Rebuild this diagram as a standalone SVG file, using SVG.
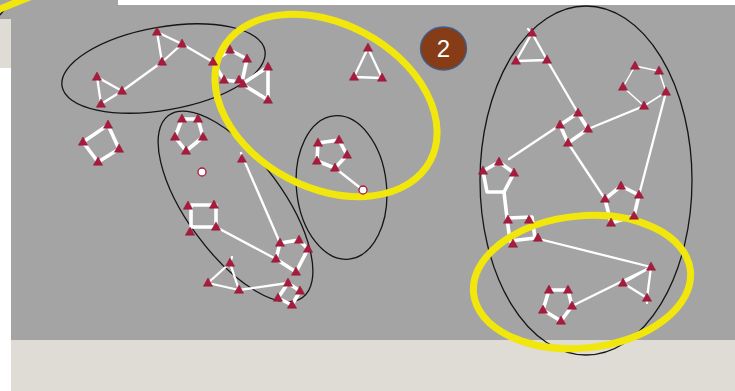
<svg xmlns="http://www.w3.org/2000/svg" width="735" height="391" viewBox="0 0 735 391">
<defs>
<style>
.grp{fill:none;stroke:#151515;stroke-width:1.3}
.hl{fill:none;stroke:#f1e70d;stroke-width:7}
.e{fill:none;stroke:#fff;stroke-width:2.3;stroke-linecap:round;stroke-linejoin:round}
.t{stroke-width:3.6}
.h{stroke-width:1.5}
.n{fill:#a81b3c;stroke:#8c1430;stroke-width:0.5}
.w{fill:#fff;stroke:#a81b3c;stroke-width:1.3}
.lbl{font-family:"Liberation Sans",Arial,sans-serif;font-size:24px;fill:#fff}
</style>
<path id="tri" d="M0,-5 L4.6,3.2 L-4.6,3.2Z"/>
</defs>

<!-- backdrop panels -->
<rect width="735" height="391" fill="#fff"/>
<rect x="0" y="0" width="735" height="340" fill="#a4a4a4"/>
<rect x="118" y="0" width="617" height="5" fill="#fff"/>
<rect x="0" y="19" width="11" height="49" fill="#dfdbd5"/>
<rect x="0" y="68" width="11" height="323" fill="#fff"/>
<rect x="11" y="340" width="724" height="51" fill="#dfdbd5"/>

<!-- group outlines -->
<g id="groups" class="grp">
<path d="M0,15 L8,5"/>
<ellipse cx="163.5" cy="68.5" rx="103" ry="41.5" transform="rotate(-10 163.5 68.5)"/>
<ellipse cx="235.5" cy="206.5" rx="113" ry="48" transform="rotate(53.6 235.5 206.5)"/>
<ellipse cx="341.5" cy="187.5" rx="45" ry="72" transform="rotate(-6 341.5 187.5)"/>
<ellipse cx="586" cy="180.5" rx="106" ry="174.5"/>
</g>

<!-- connectors -->
<g id="connectors" class="e">
<!-- top-left cluster -->
<polygon points="157,32 182,44 162,62"/>
<polygon points="97,77 122,91 101,104"/>
<line x1="162" y1="62" x2="122" y2="91"/>
<line x1="182" y1="44" x2="213" y2="62"/>
<polygon class="t" points="213,62 230,50 247,59 242,82 224,80"/>
<polygon class="t" points="242,84 268,67 268,100"/>
<polygon points="368,48 382,78 354,77"/>
<polygon class="t" points="108,125 119,149 98,162 83,142"/>
<!-- middle cluster -->
<polygon class="t" points="182,119 198,119 203,137 186,151 175,137"/>
<line x1="241" y1="153" x2="280" y2="243"/>
<polygon class="t" points="191,205 216,205 216,227 191,227"/>
<line x1="216" y1="227" x2="276" y2="259"/>
<polygon class="t" points="280,243 299,240 308,249 296,272 276,259"/>
<polygon points="230,263 208,283 239,290"/>
<line x1="230" y1="263" x2="232" y2="257"/>
<line x1="239" y1="290" x2="288" y2="283"/>
<polygon class="t" points="288,283 300,291 292,305 278,298"/>
<polygon class="t" points="318,143 339,140 347,155 335,168 317,161"/>
<line x1="335" y1="168" x2="363" y2="190"/>
<!-- right cluster -->
<polygon points="532,33 547,60 516,61"/>
<line x1="532" y1="33" x2="528" y2="29"/>
<line x1="547" y1="60" x2="578" y2="113"/>
<polygon class="t" points="578,113 588,129 568,143 560,125"/>
<line x1="560" y1="125" x2="509" y2="159"/>
<line x1="588" y1="129" x2="644" y2="106"/>
<polygon class="h" points="635,66 659,71 666,92 644,106 623,87"/>
<line x1="666" y1="92" x2="639" y2="195"/>
<line x1="568" y1="143" x2="605" y2="199"/>
<polygon class="t" points="499,162 514,173 504,192 487,192 483,171"/>
<line class="t" x1="504" y1="192" x2="507" y2="218"/>
<polygon class="t" points="507,218 532,217 535,238 510,241"/>
<line x1="535" y1="238" x2="651" y2="267"/>
<polygon class="t" points="605,199 621,186 639,195 634,216 611,223"/>
<polygon points="651,267 623,283 647,298"/>
<line x1="647" y1="298" x2="647" y2="303"/>
<line x1="572" y1="306" x2="651" y2="267"/>
<polygon class="t" points="549,290 568,290 572,306 561,321 543,310"/>
</g>

<!-- highlight rings -->
<g id="highlights" class="hl">
<path d="M-5,11 Q10,5 32,-4"/>
<ellipse cx="326" cy="105.5" rx="118" ry="82" transform="rotate(28 326 105.5)"/>
<ellipse cx="582" cy="282" rx="109" ry="66" transform="rotate(-6 582 282)"/>
</g>

<!-- nodes -->
<g id="a1" class="n"><use href="#tri" x="157" y="32"/></g>
<g id="a2" class="n"><use href="#tri" x="182" y="44"/></g>
<g id="a3" class="n"><use href="#tri" x="162" y="62"/></g>
<g id="a4" class="n"><use href="#tri" x="97" y="77"/></g>
<g id="a5" class="n"><use href="#tri" x="122" y="91"/></g>
<g id="a6" class="n"><use href="#tri" x="101" y="104"/></g>
<g id="p1" class="n"><use href="#tri" x="213" y="62"/></g>
<g id="p2" class="n"><use href="#tri" x="230" y="50"/></g>
<g id="p3" class="n"><use href="#tri" x="247" y="59"/></g>
<g id="p4" class="n"><use href="#tri" x="224" y="80"/></g>
<g id="p5" class="n"><use href="#tri" x="239" y="80"/></g>
<g id="p6" class="n"><use href="#tri" x="243" y="84"/></g>
<g id="p7" class="n"><use href="#tri" x="268" y="67"/></g>
<g id="p8" class="n"><use href="#tri" x="268" y="100"/></g>
<g id="t1" class="n"><use href="#tri" x="368" y="48"/></g>
<g id="t2" class="n"><use href="#tri" x="354" y="77"/></g>
<g id="t3" class="n"><use href="#tri" x="382" y="78"/></g>
<g id="s1" class="n"><use href="#tri" x="108" y="125"/></g>
<g id="s2" class="n"><use href="#tri" x="83" y="142"/></g>
<g id="s3" class="n"><use href="#tri" x="119" y="149"/></g>
<g id="s4" class="n"><use href="#tri" x="98" y="162"/></g>
<g id="c1" class="n"><use href="#tri" x="182" y="119"/></g>
<g id="c2" class="n"><use href="#tri" x="198" y="119"/></g>
<g id="c3" class="n"><use href="#tri" x="203" y="137"/></g>
<g id="c4" class="n"><use href="#tri" x="186" y="151"/></g>
<g id="c5" class="n"><use href="#tri" x="175" y="137"/></g>
<g id="c6" class="n"><use href="#tri" x="242" y="159"/></g>
<g id="w1"><circle class="w" cx="202" cy="172" r="4"/></g>
<g id="q1" class="n"><use href="#tri" x="188" y="206"/></g>
<g id="q2" class="n"><use href="#tri" x="214" y="205"/></g>
<g id="q3" class="n"><use href="#tri" x="216" y="227"/></g>
<g id="q4" class="n"><use href="#tri" x="190" y="232"/></g>
<g id="c7" class="n"><use href="#tri" x="280" y="243"/></g>
<g id="c8" class="n"><use href="#tri" x="299" y="240"/></g>
<g id="c9" class="n"><use href="#tri" x="308" y="249"/></g>
<g id="c10" class="n"><use href="#tri" x="296" y="272"/></g>
<g id="c11" class="n"><use href="#tri" x="276" y="259"/></g>
<g id="c12" class="n"><use href="#tri" x="230" y="263"/></g>
<g id="c13" class="n"><use href="#tri" x="208" y="283"/></g>
<g id="c14" class="n"><use href="#tri" x="239" y="290"/></g>
<g id="c15" class="n"><use href="#tri" x="288" y="283"/></g>
<g id="c16" class="n"><use href="#tri" x="300" y="291"/></g>
<g id="c17" class="n"><use href="#tri" x="292" y="305"/></g>
<g id="c18" class="n"><use href="#tri" x="278" y="298"/></g>
<g id="d1" class="n"><use href="#tri" x="318" y="143"/></g>
<g id="d2" class="n"><use href="#tri" x="339" y="140"/></g>
<g id="d3" class="n"><use href="#tri" x="347" y="155"/></g>
<g id="d4" class="n"><use href="#tri" x="335" y="168"/></g>
<g id="d5" class="n"><use href="#tri" x="317" y="161"/></g>
<g id="w2"><circle class="w" cx="363" cy="190" r="4"/></g>
<g id="e1" class="n"><use href="#tri" x="532" y="33"/></g>
<g id="e2" class="n"><use href="#tri" x="516" y="61"/></g>
<g id="e3" class="n"><use href="#tri" x="547" y="60"/></g>
<g id="e4" class="n"><use href="#tri" x="578" y="113"/></g>
<g id="e5" class="n"><use href="#tri" x="560" y="125"/></g>
<g id="e6" class="n"><use href="#tri" x="588" y="129"/></g>
<g id="e7" class="n"><use href="#tri" x="568" y="143"/></g>
<g id="e8" class="n"><use href="#tri" x="635" y="66"/></g>
<g id="e9" class="n"><use href="#tri" x="659" y="71"/></g>
<g id="e10" class="n"><use href="#tri" x="666" y="92"/></g>
<g id="e11" class="n"><use href="#tri" x="644" y="106"/></g>
<g id="e12" class="n"><use href="#tri" x="623" y="87"/></g>
<g id="e13" class="n"><use href="#tri" x="499" y="162"/></g>
<g id="e14" class="n"><use href="#tri" x="483" y="171"/></g>
<g id="e15" class="n"><use href="#tri" x="514" y="173"/></g>
<g id="e16" class="n"><use href="#tri" x="508" y="220"/></g>
<g id="e17" class="n"><use href="#tri" x="529" y="220"/></g>
<g id="e18" class="n"><use href="#tri" x="538" y="238"/></g>
<g id="e19" class="n"><use href="#tri" x="513" y="244"/></g>
<g id="e20" class="n"><use href="#tri" x="605" y="199"/></g>
<g id="e21" class="n"><use href="#tri" x="621" y="186"/></g>
<g id="e22" class="n"><use href="#tri" x="639" y="195"/></g>
<g id="e23" class="n"><use href="#tri" x="634" y="216"/></g>
<g id="e24" class="n"><use href="#tri" x="611" y="223"/></g>
<g id="e25" class="n"><use href="#tri" x="651" y="267"/></g>
<g id="e26" class="n"><use href="#tri" x="623" y="283"/></g>
<g id="e27" class="n"><use href="#tri" x="647" y="298"/></g>
<g id="e28" class="n"><use href="#tri" x="549" y="290"/></g>
<g id="e29" class="n"><use href="#tri" x="568" y="290"/></g>
<g id="e30" class="n"><use href="#tri" x="572" y="306"/></g>
<g id="e31" class="n"><use href="#tri" x="561" y="321"/></g>
<g id="e32" class="n"><use href="#tri" x="543" y="310"/></g>

<!-- step badge -->
<g id="badge">
<ellipse cx="443.5" cy="48.5" rx="23" ry="21.5" fill="#853c17" stroke="#3d5d8e" stroke-width="1.3"/>
<text class="lbl" x="443.5" y="57" text-anchor="middle">2</text>
</g>
</svg>
